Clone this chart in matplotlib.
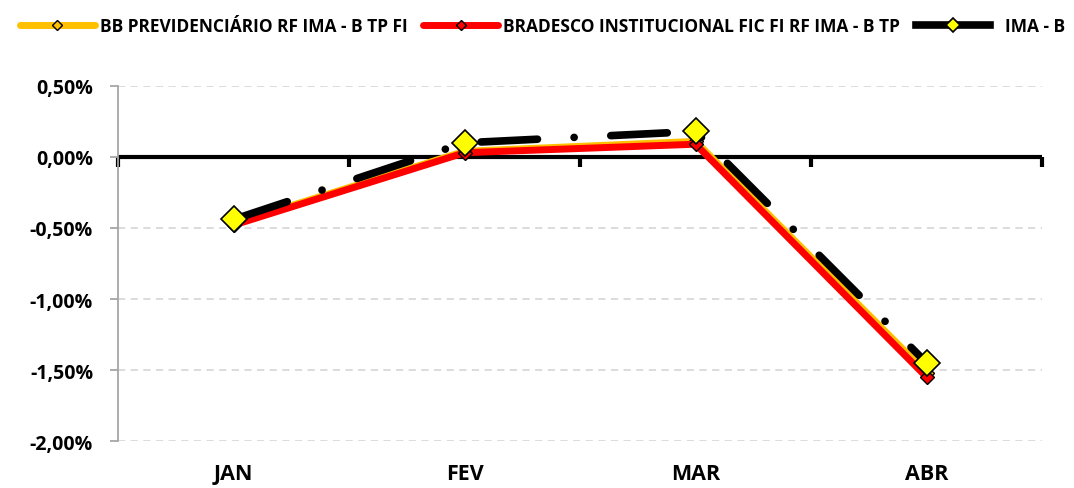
# Rentabilidade mensal: fundos x IMA-B

import numpy as np
import matplotlib.pyplot as plt
from matplotlib.ticker import FuncFormatter, FixedLocator

plt.rcParams['font.family'] = ['Open Sans', 'DejaVu Sans']
plt.rcParams['font.weight'] = 'bold'

meses = ['JAN', 'FEV', 'MAR', 'ABR']
bb_prev = [-0.47, 0.04, 0.11, -1.52]
bradesco = [-0.48, 0.03, 0.09, -1.55]
ima_b = [-0.44, 0.10, 0.18, -1.45]

nomes = ['BB PREVIDENCIÁRIO RF IMA - B TP FI',
         'BRADESCO INSTITUCIONAL FIC FI RF IMA - B TP',
         '  IMA - B']

x = np.arange(len(meses))

fig = plt.figure(figsize=(10.74, 4.89), dpi=100)
ax = fig.add_axes([0.1099, 0.0961, 0.8604, 0.7260])

# grade e eixo y
ax.set_ylim(-2.0, 0.5)
ax.set_xlim(-0.5, len(meses) - 0.5)
ax.yaxis.set_major_locator(FixedLocator([-2.0, -1.5, -1.0, -0.5, 0.0, 0.5]))
ax.yaxis.set_major_formatter(FuncFormatter(lambda v, p: ('%.2f%%' % v).replace('.', ',')))
ax.grid(axis='y', color='#D9D9D9', linestyle=(0, (4, 3)), linewidth=1.3)
ax.set_axisbelow(True)

for s in ['top', 'right', 'bottom']:
    ax.spines[s].set_visible(False)
ax.spines['left'].set_color('#A6A6A6')
ax.spines['left'].set_linewidth(1.3)
ax.tick_params(axis='y', direction='out', length=6, width=1.3, color='#A6A6A6',
               labelsize=14, pad=12)
ax.set_xticks(x)
ax.set_xticklabels(meses, fontsize=15.5, fontweight='bold')
ax.tick_params(axis='x', length=0, pad=16)

# linha do zero com marcas entre categorias
ax.axhline(0, color='black', linewidth=3, zorder=2)
zero = ax.secondary_xaxis(0.8)
zero.spines['bottom'].set_visible(False)
zero.spines['top'].set_visible(False)
zero.set_xticks(np.arange(-0.5, len(meses), 1.0))
zero.set_xticklabels([])
zero.tick_params(axis='x', direction='in', length=7, width=3, color='black')

# séries
ax.plot(x, bb_prev, color='#FFC000', linewidth=5, marker='D', markersize=7,
        markerfacecolor='#FFC000', markeredgecolor='black', markeredgewidth=1,
        solid_capstyle='round', label=nomes[0], zorder=3)
ax.plot(x, bradesco, color='#FF0000', linewidth=5, marker='D', markersize=7,
        markerfacecolor='#FF0000', markeredgecolor='black', markeredgewidth=1,
        solid_capstyle='round', label=nomes[1], zorder=4)
ax.plot(x, ima_b, color='black', linewidth=5.5, marker='D', markersize=13,
        markerfacecolor='#FFFF00', markeredgecolor='black', markeredgewidth=1.2,
        dashes=(7.4, 4.8, 0.01, 4.8), dash_capstyle='round',
        label=nomes[2], zorder=5)

handles, labels = ax.get_legend_handles_labels()
leg = fig.legend(handles, labels, loc='upper center', bbox_to_anchor=(0.505, 0.995),
                 ncol=3, frameon=False, fontsize=12.5, handlelength=4.3,
                 handletextpad=0.3, columnspacing=0.9, markerscale=0.7)
for t in leg.get_texts():
    t.set_fontweight('bold')
# na legenda, a linha do IMA-B aparece contínua
leg.legend_handles[2].set_linestyle('-')
leg.legend_handles[2].set_markersize(7)

fig.savefig('out.png', dpi=100)
